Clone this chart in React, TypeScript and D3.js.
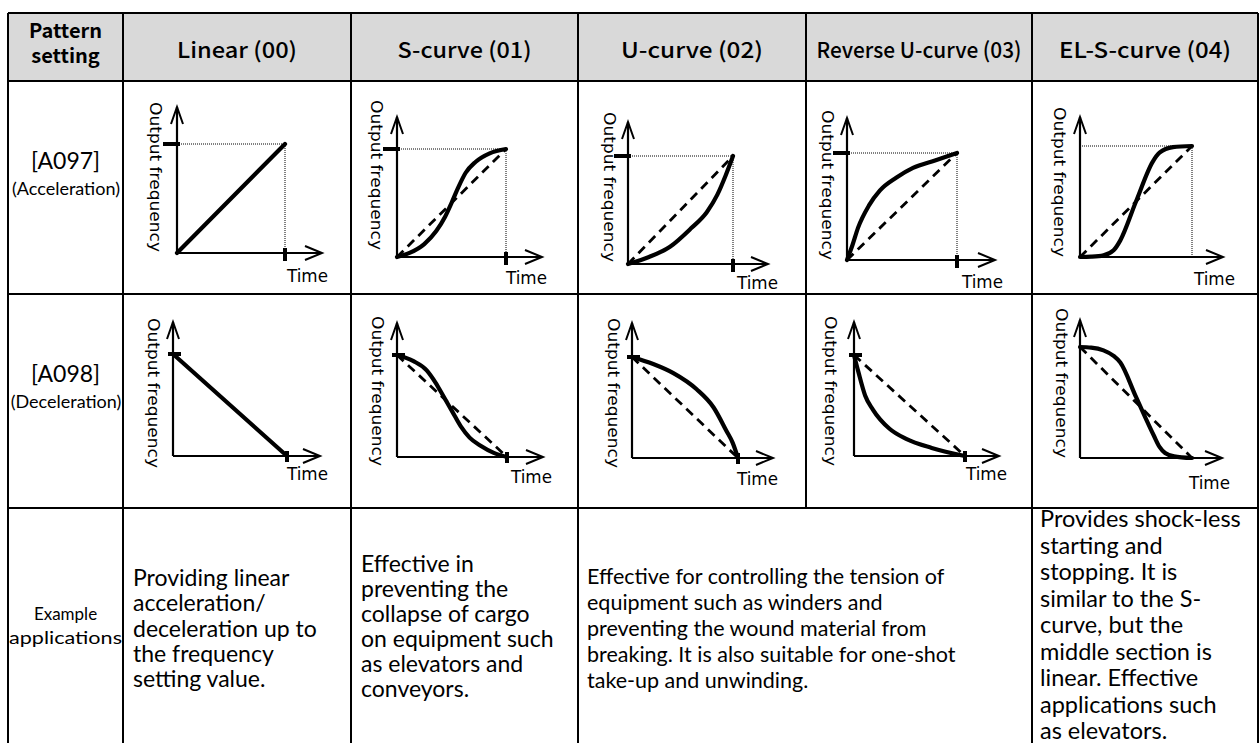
import React from 'react';
import * as d3 from 'd3';

// ---------- data ----------
const headers = ['Linear (00)', 'S-curve (01)', 'U-curve (02)', 'Reverse U-curve (03)', 'EL-S-curve (04)'];
const headerWidths = [120, 134, 142, 205, 172];
const cornerHeader = ['Pattern', 'setting'];
const rowLabels = [['[A097]', '(Acceleration)'], ['[A098]', '(Deceleration)']];
const exampleLabel = ['Example', 'applications'];
const axisYLabel = 'Output frequency';
const axisXLabel = 'Time';

// normalized [time, frequency] points
const linearAccel: [number, number][] = [[0, 0], [1, 1]];
const sCurveAccel: [number, number][] = [[0, 0], [0.12, 0.04], [0.25, 0.12], [0.36, 0.24], [0.44, 0.37], [0.5, 0.5], [0.56, 0.64], [0.63, 0.78], [0.72, 0.88], [0.85, 0.96], [1, 1]];
const uCurveAccel: [number, number][] = [[0, 0], [0.2, 0.065], [0.4, 0.16], [0.6, 0.33], [0.75, 0.48], [0.85, 0.64], [0.93, 0.82], [1, 1]];
const revUAccel: [number, number][] = [[0, 0], [0.05, 0.14], [0.1, 0.3], [0.2, 0.51], [0.3, 0.65], [0.45, 0.77], [0.6, 0.86], [0.8, 0.93], [1, 1]];
const elsAccel: [number, number][] = [[0, 0], [0.1, 0.003], [0.21, 0.015], [0.3, 0.06], [0.36, 0.15], [0.5, 0.5], [0.65, 0.86], [0.71, 0.94], [0.83, 0.99], [1, 1]];

const linearDecel: [number, number][] = [[0, 1], [1, 0]];
const sCurveDecel: [number, number][] = [[0, 1], [0.15, 0.94], [0.27, 0.85], [0.35, 0.73], [0.42, 0.6], [0.5, 0.45], [0.58, 0.3], [0.66, 0.19], [0.76, 0.11], [0.88, 0.04], [1, 0]];
const uCurveDecel: [number, number][] = [[0, 1], [0.2, 0.93], [0.39, 0.84], [0.61, 0.68], [0.77, 0.5], [0.89, 0.27], [0.95, 0.15], [1, 0]];
const revUDecel: [number, number][] = [[0, 1], [0.04, 0.83], [0.1, 0.6], [0.17, 0.46], [0.32, 0.27], [0.47, 0.17], [0.7, 0.08], [1, 0]];
const elsDecel: [number, number][] = [[0, 1], [0.1, 0.995], [0.21, 0.97], [0.3, 0.92], [0.36, 0.86], [0.5, 0.55], [0.66, 0.2], [0.71, 0.1], [0.76, 0.045], [0.84, 0.015], [1, 0]];

const accelCurves = [linearAccel, sCurveAccel, uCurveAccel, revUAccel, elsAccel];
const decelCurves = [linearDecel, sCurveDecel, uCurveDecel, revUDecel, elsDecel];

const exampleTexts: string[][] = [
  ['Providing linear', 'acceleration/', 'deceleration up to', 'the frequency', 'setting value.'],
  ['Effective in', 'preventing the', 'collapse of cargo', 'on equipment such', 'as elevators and', 'conveyors.'],
  ['Effective for controlling the tension of', 'equipment such as winders and', 'preventing the wound material from', 'breaking. It is also suitable for one-shot', 'take-up and unwinding.'],
  ['Provides shock-less', 'starting and', 'stopping. It is', 'similar to the S-', 'curve, but the', 'middle section is', 'linear. Effective', 'applications such', 'as elevators.'],
];

// ---------- layout ----------
const colX = [8, 123, 351, 578, 806, 1032, 1258];
const rowY = [13, 81, 294, 508, 760];

type Frame = { ax: number; oy: number; ty: number; ex: number; yTip: number; xTip: number; lx: number; lt: number; tx: number; tyT: number };
const accelFrames: Frame[] = [
  { ax: 177, oy: 253, ty: 144, ex: 285, yTip: 107, xTip: 322, lx: 155, lt: 102, tx: 287, tyT: 282 },
  { ax: 397, oy: 257, ty: 149, ex: 506, yTip: 117, xTip: 542, lx: 376, lt: 100, tx: 506, tyT: 284 },
  { ax: 628, oy: 264, ty: 156, ex: 733, yTip: 122, xTip: 768, lx: 609, lt: 112, tx: 737, tyT: 289 },
  { ax: 847, oy: 260, ty: 153, ex: 957, yTip: 118, xTip: 995, lx: 827, lt: 110, tx: 962, tyT: 288 },
  { ax: 1080, oy: 257, ty: 146, ex: 1192, yTip: 117, xTip: 1223, lx: 1059, lt: 107, tx: 1194, tyT: 285 },
];
const decelFrames: Frame[] = [
  { ax: 173, oy: 456, ty: 354, ex: 287, yTip: 322, xTip: 320, lx: 153, lt: 318, tx: 287, tyT: 480 },
  { ax: 397, oy: 457, ty: 355, ex: 507, yTip: 323, xTip: 543, lx: 377, lt: 316, tx: 511, tyT: 483 },
  { ax: 632, oy: 458, ty: 357, ex: 738, yTip: 323, xTip: 773, lx: 613, lt: 318, tx: 737, tyT: 485 },
  { ax: 854, oy: 456, ty: 355, ex: 965, yTip: 322, xTip: 999, lx: 830, lt: 316, tx: 966, tyT: 480 },
  { ax: 1080, oy: 458, ty: 347, ex: 1192, yTip: 320, xTip: 1222, lx: 1061, lt: 308, tx: 1189, tyT: 489 },
];

const headFont = '"Noto Sans CJK JP", "Noto Sans", sans-serif';
const bodyFont = 'Lato, "Open Sans", sans-serif';
const chartFont = '"DejaVu Sans", sans-serif';

function MiniChart({ f, data, decel, idx }: { f: Frame; data: [number, number][]; decel: boolean; idx: number }) {
  const x = d3.scaleLinear().domain([0, 1]).range([f.ax, f.ex]);
  const y = d3.scaleLinear().domain([0, 1]).range([f.oy, f.ty]);
  const line = d3.line<[number, number]>().x(d => x(d[0])).y(d => y(d[1])).curve(d3.curveMonotoneX);
  const isLinear = idx === 0;
  const isEls = idx === 4;
  const dashStart: [number, number] = decel ? [0, 1] : [0, 0];
  const dashEnd: [number, number] = decel ? [1, 0] : [1, 1];
  return (
    <g>
      {!decel && (
        <g stroke="#000" strokeWidth={1} strokeDasharray="1 1" fill="none">
          <line x1={x(0)} y1={y(1)} x2={x(1)} y2={y(1)} />
          <line x1={x(1)} y1={y(1)} x2={x(1)} y2={y(0)} />
        </g>
      )}
      <line x1={x(0)} y1={y(0)} x2={x(0)} y2={f.yTip} stroke="#000" strokeWidth={2.2} />
      <line x1={x(0)} y1={y(0)} x2={f.xTip} y2={y(0)} stroke="#000" strokeWidth={2.2} />
      <path d={`M${x(0) - 6},${f.yTip + 17}L${x(0)},${f.yTip}L${x(0) + 6},${f.yTip + 17}`} fill="none" stroke="#000" strokeWidth={2} />
      <path d={`M${f.xTip - 17},${y(0) - 7}L${f.xTip},${y(0)}L${f.xTip - 17},${y(0) + 7}`} fill="none" stroke="#000" strokeWidth={2} />
      {!isEls && (
        <g stroke="#000" strokeWidth={4}>
          {decel ? (
            <>
              <line x1={x(0) - 5} y1={y(1)} x2={x(0) + 8} y2={y(1)} />
              <line x1={x(1)} y1={y(0) - 5} x2={x(1)} y2={y(0) + 6} />
            </>
          ) : (
            <>
              <line x1={x(0) - 14} y1={y(1)} x2={x(0) + 3} y2={y(1)} />
              <line x1={x(1)} y1={y(0) - 5} x2={x(1)} y2={y(0) + 8} />
            </>
          )}
        </g>
      )}
      {!isLinear && (
        <line x1={x(dashStart[0])} y1={y(dashStart[1])} x2={x(dashEnd[0])} y2={y(dashEnd[1])} stroke="#000" strokeWidth={2.8} strokeDasharray="9 6" />
      )}
      <path d={line(data) || ''} fill="none" stroke="#000" strokeWidth={4.2} strokeLinecap="round" strokeLinejoin="round" />
      <text transform={`translate(${f.lx},${f.lt}) rotate(90)`} fontFamily={chartFont} fontSize={16} dominantBaseline="central" textLength={150} lengthAdjust="spacingAndGlyphs">{axisYLabel}</text>
      <text x={f.tx} y={f.tyT} fontFamily={chartFont} fontSize={17} textLength={41} lengthAdjust="spacingAndGlyphs">{axisXLabel}</text>
    </g>
  );
}

export default function App() {
  const W = 1259, H = 743;
  const headMid = (rowY[0] + rowY[1]) / 2;
  const c0 = (colX[0] + colX[1]) / 2;
  return (
    <svg width={W} height={H} style={{ position: 'absolute', left: 0, top: 0, background: '#fff' }}>
      <rect x={colX[0]} y={rowY[0]} width={colX[6] - colX[0]} height={rowY[1] - rowY[0]} fill="#d9d9d9" />
      <text x={c0} y={38} textAnchor="middle" fontFamily={headFont} fontWeight={700} fontSize={20}>{cornerHeader[0]}</text>
      <text x={c0} y={63} textAnchor="middle" fontFamily={headFont} fontWeight={700} fontSize={20}>{cornerHeader[1]}</text>
      {headers.map((h, i) => (
        <text key={h} x={(colX[i + 1] + colX[i + 2]) / 2} y={headMid + 1} textAnchor="middle" dominantBaseline="central" fontFamily={headFont} fontWeight={500} fontSize={22}
          textLength={headerWidths[i]} lengthAdjust="spacingAndGlyphs">{h}</text>
      ))}
      {rowLabels.map((r, i) => {
        const cy = (rowY[i + 1] + rowY[i + 2]) / 2;
        return (
          <g key={r[0]}>
            <text x={c0} y={cy - 19} textAnchor="middle" fontFamily={bodyFont} fontSize={23}>{r[0]}</text>
            <text x={c0 + 0.5} y={cy + 7} textAnchor="middle" fontFamily={bodyFont} fontSize={18}>{r[1]}</text>
          </g>
        );
      })}
      <text x={c0} y={620} textAnchor="middle" fontFamily={bodyFont} fontSize={17}>{exampleLabel[0]}</text>
      <text x={c0} y={644} textAnchor="middle" fontFamily={bodyFont} fontSize={17} textLength={113} lengthAdjust="spacingAndGlyphs">{exampleLabel[1]}</text>
      {accelFrames.map((f, i) => <MiniChart key={'a' + i} f={f} data={accelCurves[i]} decel={false} idx={i} />)}
      {decelFrames.map((f, i) => <MiniChart key={'d' + i} f={f} data={decelCurves[i]} decel={true} idx={i} />)}
      {[
        { x: 133, y0: 586, dy: 25.3, fs: 23, lines: exampleTexts[0] },
        { x: 361, y0: 572, dy: 25, fs: 23, lines: exampleTexts[1] },
        { x: 587, y0: 584, dy: 26, fs: 21.5, lines: exampleTexts[2] },
        { x: 1040, y0: 527, dy: 26.5, fs: 23.5, lines: exampleTexts[3] },
      ].map((b, bi) => (
        <g key={'t' + bi}>
          {b.lines.map((l, li) => (
            <text key={li} x={b.x} y={b.y0 + li * b.dy} fontFamily={bodyFont} fontSize={b.fs}>{l}</text>
          ))}
        </g>
      ))}
      <g stroke="#000" strokeWidth={2}>
        {rowY.slice(0, 4).map((yy, i) => <line key={'h' + i} x1={colX[0]} y1={yy} x2={colX[6]} y2={yy} />)}
        {colX.map((xx, i) => {
          if (i === 4) return <line key={'v' + i} x1={xx} y1={rowY[0]} x2={xx} y2={rowY[3]} />;
          return <line key={'v' + i} x1={xx} y1={rowY[0]} x2={xx} y2={rowY[4]} />;
        })}
      </g>
    </svg>
  );
}
